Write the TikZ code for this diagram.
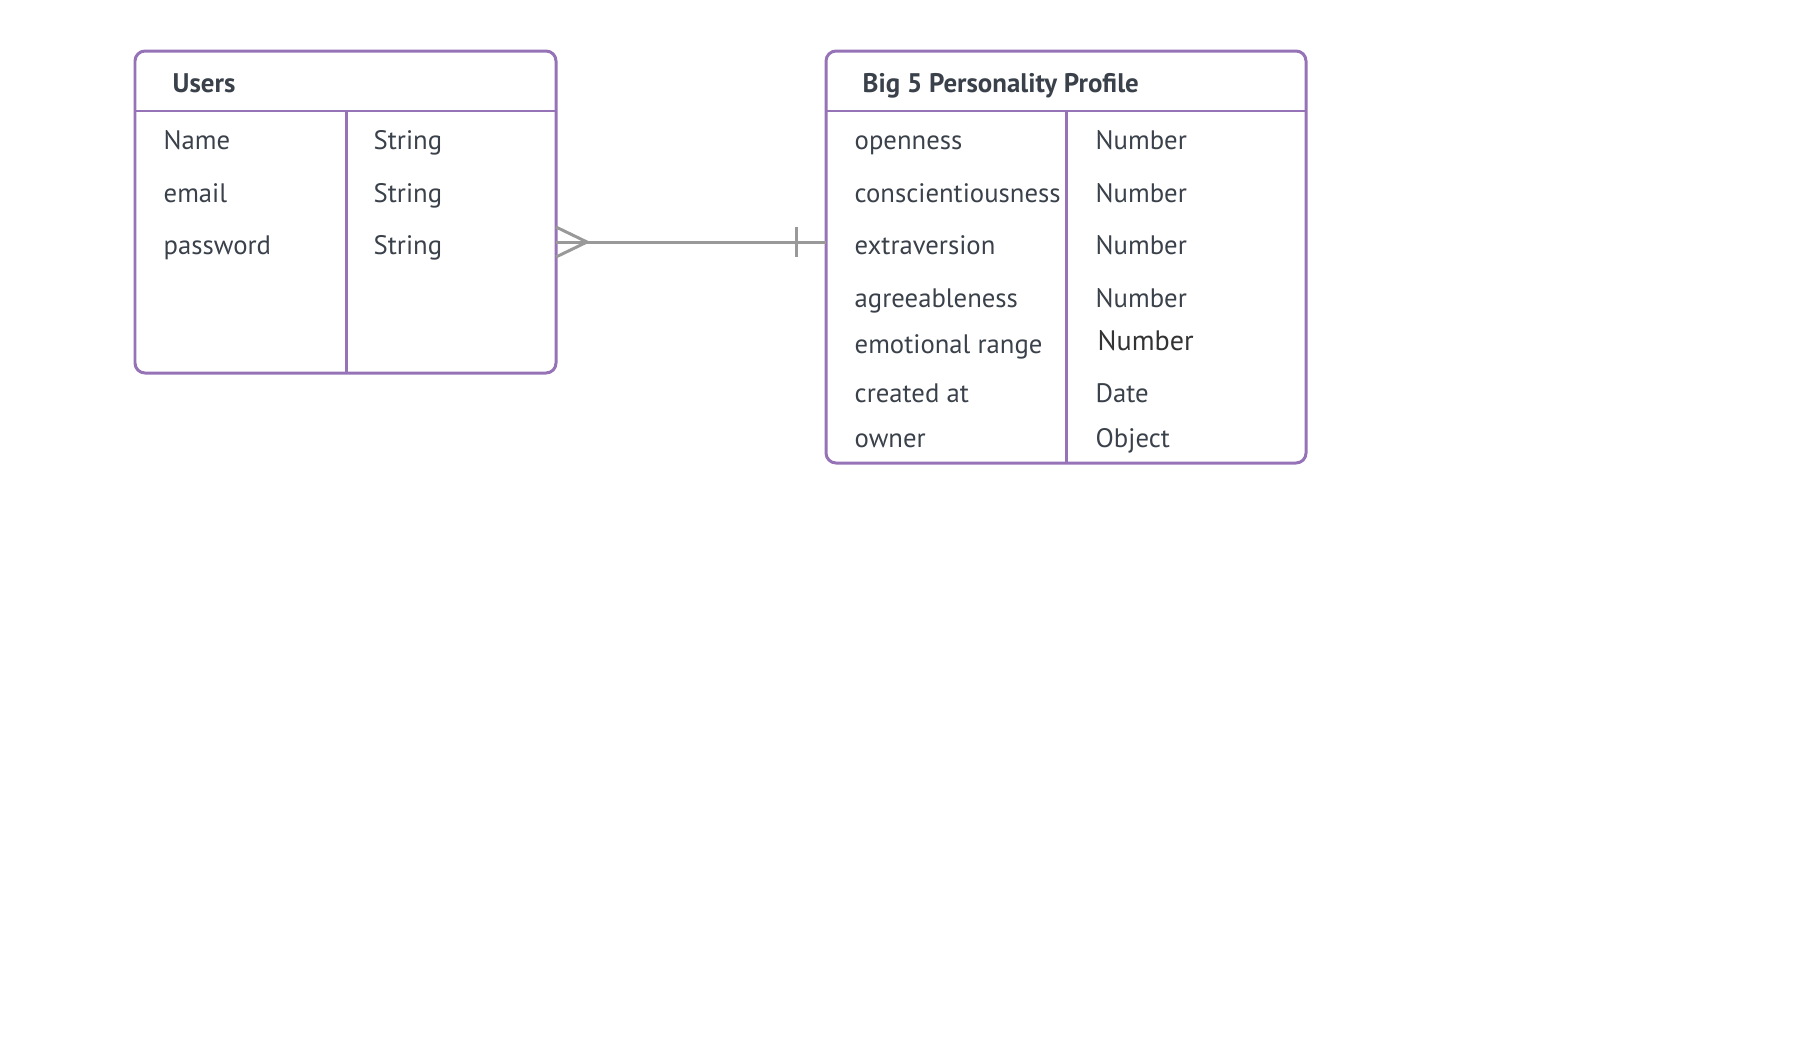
\documentclass[tikz,border=0pt]{standalone}
\usepackage{fontspec}
\setmainfont{PT Sans}
\usetikzlibrary{positioning}
\definecolor{erpurple}{HTML}{9673B7}
\definecolor{ertext}{HTML}{3A414A}
\definecolor{erline}{HTML}{999999}
\tikzset{
  entitybox/.style={draw=erpurple, line width=0.85pt, rounded corners=1mm, inner sep=0pt},
  divider/.style={draw=erpurple, line width=0.85pt},
  hdr/.style={anchor=base west, inner sep=0pt, text=ertext, font=\fontsize{7.65}{8}\selectfont\bfseries},
  fld/.style={anchor=base west, inner sep=0pt, text=ertext, font=\fontsize{7.6}{8}\selectfont},
  conn/.style={draw=erline, line width=0.85pt}
}

\begin{document}
\begin{tikzpicture}[x=0.1mm, y=-0.1mm]
  \useasboundingbox (0,0) rectangle (1798,1058);

  % Users
  \node[entitybox, minimum width=42.1mm, minimum height=32.2mm] (users) at (345.5,212) {};
  \draw[divider] (135,111) -- (556,111);
  \draw[divider] (346,111) -- (346,373);
  \node[hdr] (usersT) at (172,92) {Users};
  \node[fld] (uName) at (163,149) {Name};
  \node[fld] (uEmail) at (163,202) {email};
  \node[fld] (uPass) at (163,254) {password};
  \node[fld] (uNameT) at (373,149) {String};
  \node[fld] (uEmailT) at (373,202) {String};
  \node[fld] (uPassT) at (373,254) {String};

  % Big 5 Personality Profile
  \node[entitybox, minimum width=48mm, minimum height=41.2mm] (profile) at (1066,257) {};
  \draw[divider] (826,111) -- (1306,111);
  \draw[divider] (1066,111) -- (1066,463);
  \node[hdr] (profileT) at (862,92) {Big 5 Personality Profile};
  \node[fld] (pOpen) at (854,149) {openness};
  \node[fld] (pCons) at (854,202) {conscientiousness};
  \node[fld] (pExtra) at (854,254) {extraversion};
  \node[fld] (pAgree) at (854,307) {agreeableness};
  \node[fld] (pEmo) at (854,353) {emotional range};
  \node[fld] (pCreated) at (854,402) {created at};
  \node[fld] (pOwner) at (854,447) {owner};
  \node[fld] (pOpenT) at (1095,149) {Number};
  \node[fld] (pConsT) at (1095,202) {Number};
  \node[fld] (pExtraT) at (1095,254) {Number};
  \node[fld] (pAgreeT) at (1095,307) {Number};
  \node[fld, text=black!80, font=\fontsize{8}{9}\selectfont] (pEmoT) at (1097,350) {Number};
  \node[fld] (pCreatedT) at (1095,402) {Date};
  \node[fld] (pOwnerT) at (1095,447) {Object};

  % relation: many users -- one profile
  \coordinate (usersR) at (556,242);
  \coordinate (profileL) at (826,242);
  \coordinate (crowUp) at (556,227);
  \coordinate (crowDn) at (556,257);
  \coordinate (crowTip) at (587,242);
  \coordinate (barUp) at (796,227);
  \coordinate (barDn) at (796,257);
  \draw[conn] (usersR) -- (profileL);
  \draw[conn] (crowUp) -- (crowTip) -- (crowDn);
  \draw[conn] (barUp) -- (barDn);
\end{tikzpicture}
\end{document}
